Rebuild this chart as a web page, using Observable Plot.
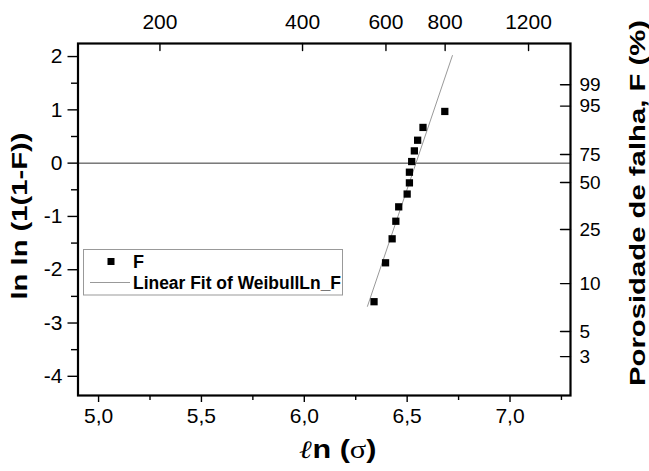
<!DOCTYPE html>
<html><head><meta charset="utf-8">
<script src="https://cdn.jsdelivr.net/npm/d3@7"></script>
<script src="https://cdn.jsdelivr.net/npm/@observablehq/plot@0.6"></script>
<style>body{margin:0;background:#fff}</style>
</head><body><div id="chart"></div>
<script>
// Data
const lnSigma = [6.339, 6.395, 6.427, 6.445, 6.459, 6.500, 6.511, 6.511, 6.522, 6.535, 6.551, 6.577, 6.683];
const lnlnF   = [-2.60, -1.87, -1.42, -1.09, -0.82, -0.58, -0.37, -0.17, 0.03, 0.23, 0.43, 0.67, 0.97];
const fitX = [6.307, 6.720];
const fitY = [-2.687, 2.019];
const xMajor = [5.0, 5.5, 6.0, 6.5, 7.0];
const xMinor = [5.25, 5.75, 6.25, 6.75, 7.25];
const yMajor = [-4, -3, -2, -1, 0, 1, 2];
const yMinor = [-3.5, -2.5, -1.5, -0.5, 0.5, 1.5];
const topTickLabels = [200, 400, 600, 800, 1200];
const rightTickLabels = [99, 95, 75, 50, 25, 10, 5, 3];
const rightTickPos = [1.47, 1.07, 0.163, -0.364, -1.246, -2.26, -3.16, -3.63];

const points = lnSigma.map((x, i) => ({x, y: lnlnF[i]}));
const fit = fitX.map((x, i) => ({x, y: fitY[i]}));
const fmt = d => d.toFixed(1).replace(".", ",");
const font = "'Liberation Sans', Arial, sans-serif";
const tickShape = {draw(context, l) { context.moveTo(0, 0); context.lineTo(0, -l); }};

const chart = Plot.plot({
  width: 649, height: 471,
  marginLeft: 77.5, marginRight: 79, marginTop: 43, marginBottom: 76,
  x: {domain: [4.9, 7.294], axis: null},
  y: {domain: [-4.36, 2.245], axis: null},
  style: {fontFamily: font, background: "white", color: "black"},
  marks: [
    Plot.ruleY([0], {stroke: "#333", strokeWidth: 1}),
    Plot.line(fit, {x: "x", y: "y", stroke: "#999", strokeWidth: 1}),
    Plot.dot(points, {x: "x", y: "y", symbol: "square", r: 4.1, fill: "black", stroke: "none"}),
    Plot.axisX(xMajor, {anchor: "bottom", tickSize: 7, tickPadding: 6, tickFormat: fmt, fontSize: 21, strokeWidth: 1.4, label: null}),
    Plot.axisX(xMinor, {anchor: "bottom", tickSize: 5, tickFormat: () => "", strokeWidth: 1.4, label: null}),
    Plot.axisY(yMajor, {anchor: "left", tickSize: 10, tickPadding: 5.5, tickFormat: d => String(d), fontSize: 21, strokeWidth: 1.4, label: null}),
    Plot.axisY(yMinor, {anchor: "left", tickSize: 6.5, tickFormat: () => "", strokeWidth: 1.4, label: null}),
    Plot.vector(topTickLabels, {x: d => Math.log(d), frameAnchor: "top", length: 7, rotate: 180, anchor: "start", shape: tickShape, stroke: "black", strokeWidth: 1.4}),
    Plot.text(topTickLabels, {x: d => Math.log(d), text: d => String(d), frameAnchor: "top", dy: -15, lineAnchor: "bottom", fontSize: 21}),
    Plot.vector(rightTickPos, {y: d => d, frameAnchor: "right", length: 10, rotate: -90, anchor: "start", shape: tickShape, stroke: "black", strokeWidth: 1.4}),
    Plot.text(rightTickLabels, {y: (d, i) => rightTickPos[i], text: d => String(d), frameAnchor: "right", dx: 9, textAnchor: "start", fontSize: 19}),
    Plot.frame({stroke: "black", strokeWidth: 2.2})
  ]
});
document.getElementById("chart").appendChild(chart);

const svg = d3.select(chart);
// Legend
const lg = svg.append("g").attr("font-family", font).attr("font-weight", "bold").attr("text-anchor", "start");
lg.append("rect").attr("x", 83.5).attr("y", 249.5).attr("width", 259).attr("height", 45.5)
  .attr("fill", "white").attr("stroke", "#999").attr("stroke-width", 1);
lg.append("rect").attr("x", 107.5).attr("y", 258).attr("width", 7).attr("height", 7).attr("fill", "black");
lg.append("text").attr("x", 133).attr("y", 268.3).attr("font-size", 18).text("F");
lg.append("line").attr("x1", 90).attr("x2", 130).attr("y1", 282.5).attr("y2", 282.5)
  .attr("stroke", "#999").attr("stroke-width", 1);
lg.append("text").attr("x", 133).attr("y", 288.5).attr("font-size", 18)
  .attr("textLength", 208).attr("lengthAdjust", "spacingAndGlyphs").text("Linear Fit of WeibullLn_F");

// Axis titles
svg.append("text").attr("transform", "translate(27,216) rotate(-90)")
  .attr("text-anchor", "middle").attr("font-family", font).attr("font-weight", "bold").attr("font-size", 22)
  .attr("textLength", 167).attr("lengthAdjust", "spacingAndGlyphs").text("ln ln (1(1-F))");
svg.append("text").attr("transform", "translate(645,203) rotate(-90)")
  .attr("text-anchor", "middle").attr("font-family", font).attr("font-weight", "bold").attr("font-size", 22)
  .attr("textLength", 366).attr("lengthAdjust", "spacingAndGlyphs").text("Porosidade de falha, F (%)");
const bt = svg.append("text").attr("x", 338).attr("y", 458).attr("text-anchor", "middle")
  .attr("font-family", font).attr("font-weight", "bold").attr("font-size", 25)
  .attr("textLength", 77).attr("lengthAdjust", "spacingAndGlyphs");
bt.append("tspan").attr("font-family", "'DejaVu Serif', serif").attr("font-style", "italic").text("ℓ");
bt.append("tspan").text("n (");
bt.append("tspan").attr("font-family", "'Liberation Serif', serif").attr("font-weight", "normal").text("σ");
bt.append("tspan").text(")");
</script>
</body></html>
